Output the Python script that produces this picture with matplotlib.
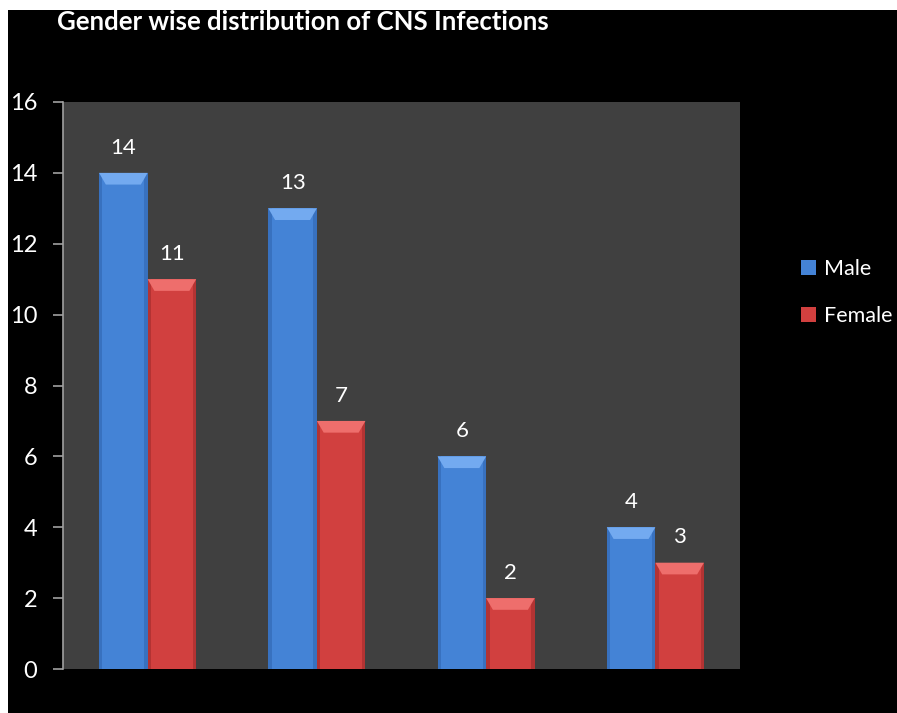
import matplotlib
matplotlib.use("Agg")
import matplotlib.pyplot as plt
from matplotlib.patches import Polygon, Rectangle
import numpy as np

title = "Gender wise distribution of CNS Infections"
categories = ["Group 1", "Group 2", "Group 3", "Group 4"]
male = [14, 13, 6, 4]
female = [11, 7, 2, 3]
series_names = ["Male", "Female"]
yticks = [0, 2, 4, 6, 8, 10, 12, 14, 16]

plt.rcParams['font.family'] = ['Lato', 'DejaVu Sans']

fig = plt.figure(figsize=(8.97, 7.13), dpi=100, facecolor='white')
fig.patches.append(Rectangle((8/897, 0), 1, 1 - 10/713, transform=fig.transFigure,
                             facecolor='black', edgecolor='none', zorder=-10))

ax = fig.add_axes([63/897, 1 - 669/713, (740 - 63)/897, (669 - 102)/713])
ax.set_facecolor('#404040')

x = np.arange(len(categories))
w = 0.287
blue = '#4483d6'
blue_light = '#73aaf0'
blue_dark = '#2f63ad'
red = '#d1403f'
red_light = '#ee6e6c'
red_dark = '#9c2a2a'

def draw(xs, vals, c, cl, cd):
    bars = ax.bar(xs, vals, width=w, color=c, edgecolor='none', zorder=2)
    bev_h = 0.33
    bev_d = w * 0.14
    side = w * 0.07
    for b in bars:
        x0 = b.get_x(); x1 = x0 + b.get_width(); top = b.get_height()
        ax.add_patch(Rectangle((x0, 0), side, top, facecolor=cd, edgecolor='none', alpha=0.55, zorder=3))
        ax.add_patch(Rectangle((x1 - side, 0), side, top, facecolor=cd, edgecolor='none', alpha=0.55, zorder=3))
        poly = Polygon([(x0, top), (x1, top), (x1 - bev_d, top - bev_h), (x0 + bev_d, top - bev_h)],
                       closed=True, facecolor=cl, edgecolor='none', zorder=4)
        ax.add_patch(poly)
        ax.annotate(f"{int(top)}", (b.get_x() + b.get_width() / 2, top), xytext=(0, 11),
                    textcoords='offset points', ha='center', va='bottom',
                    color='white', fontsize=16)
    return bars

b1 = draw(x - w / 2, male, blue, blue_light, blue_dark)
b2 = draw(x + w / 2, female, red, red_light, red_dark)

ax.set_xlim(-0.5, len(categories) - 0.5)
ax.set_ylim(0, 16)
ax.set_yticks(yticks)
ax.set_yticklabels([str(t) for t in yticks], fontsize=17)
ax.set_xticks([])
ax.tick_params(axis='y', colors='#a0a0a0', length=7.5, width=1.2, pad=11, labelcolor='white')
for s in ['top', 'right', 'bottom']:
    ax.spines[s].set_visible(False)
ax.spines['left'].set_color('#a0a0a0')
ax.spines['left'].set_linewidth(1.2)

fig.text(57/897, 1 - 22/713, title, color='white', fontsize=18.5, fontweight='bold',
         ha='left', va='center')

leg = fig.legend([b1, b2], series_names, loc='upper left',
                 bbox_to_anchor=(782/897, 1 - 240/713), frameon=False,
                 fontsize=15.5, labelcolor='white', handlelength=0.7, handleheight=0.7,
                 handletextpad=0.35, labelspacing=1.25)

fig.savefig("out.png", dpi=100, facecolor=fig.get_facecolor())
